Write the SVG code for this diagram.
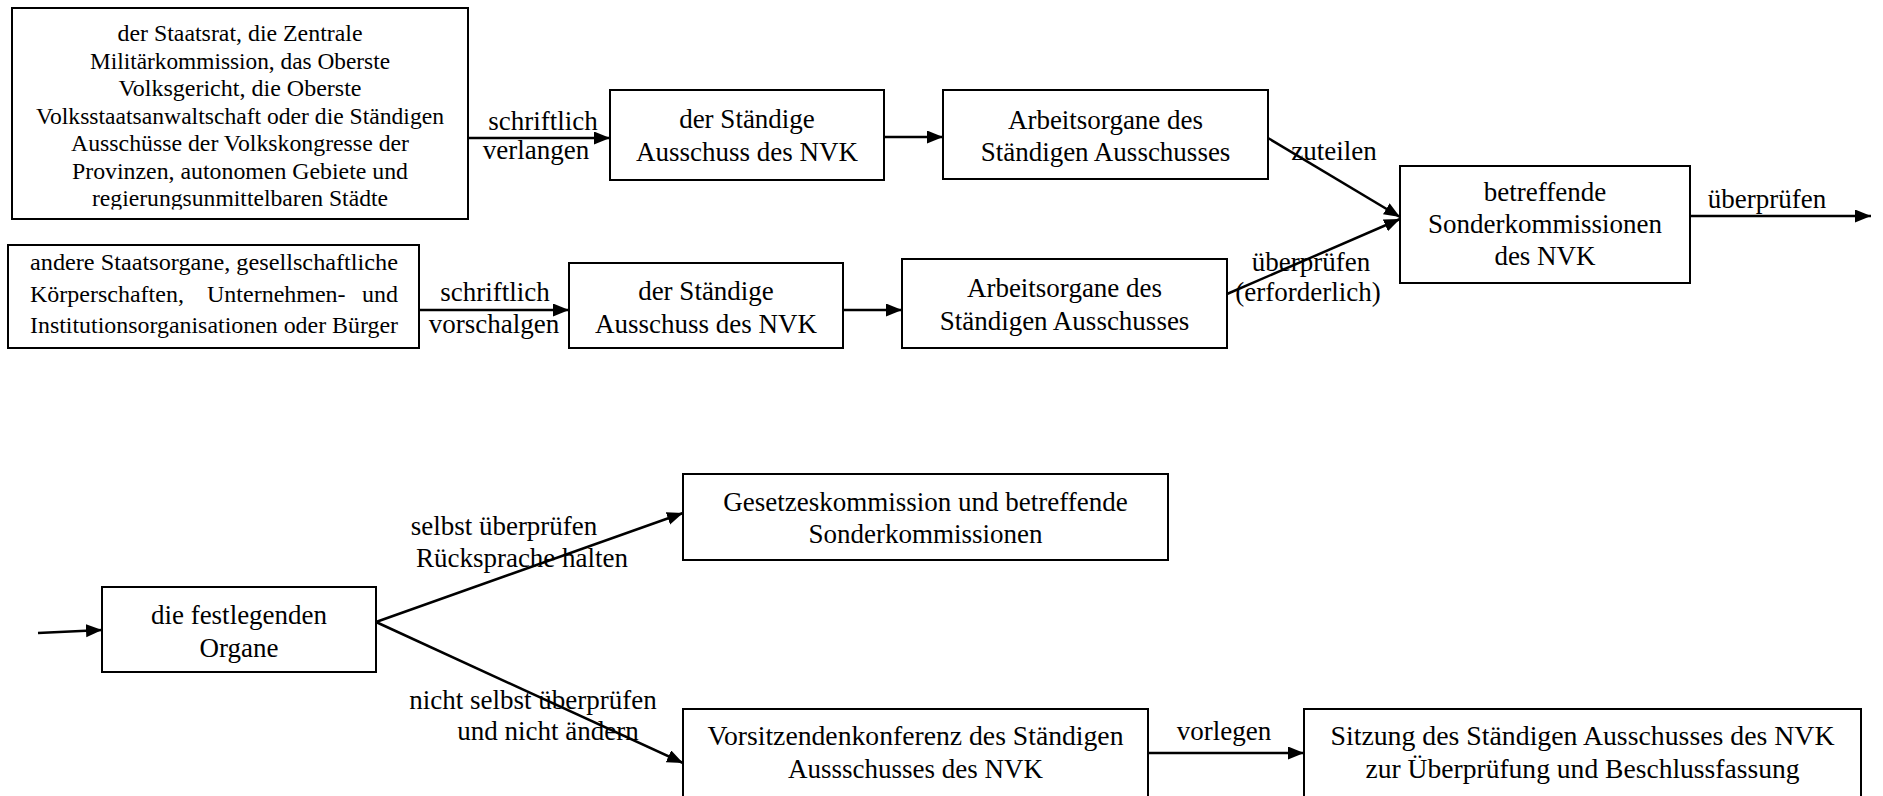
<svg xmlns="http://www.w3.org/2000/svg" width="1883" height="796" viewBox="0 0 1883 796">
<style>
.box{fill:#fff;stroke:#000;stroke-width:2}
.t{font-family:"Liberation Serif","Times New Roman",serif;font-size:27px;fill:#000;text-anchor:middle}
.s{font-size:23.5px}
.l{text-anchor:start;font-size:24px}
.r{text-anchor:end;font-size:24px}
.c{stroke:#000;stroke-width:2.5;fill:none;marker-end:url(#ah)}
</style>
<defs>
<marker id="ah" markerUnits="userSpaceOnUse" markerWidth="18" markerHeight="14" refX="16" refY="6.5" orient="auto" viewBox="0 0 18 14">
<path d="M0,0 L16,6.5 L0,13 z" fill="#000"/>
</marker>
<clipPath id="cp1"><rect x="13" y="9" width="454" height="200.5"/></clipPath>
</defs>
<rect width="1883" height="796" fill="#fff"/>

<g id="connectors">
<line class="c" x1="468" y1="138" x2="610" y2="138"/>
<line class="c" x1="884" y1="137" x2="943" y2="137"/>
<line class="c" x1="1268" y1="138" x2="1400" y2="217"/>
<line class="c" x1="1227" y1="294" x2="1400" y2="219"/>
<line class="c" x1="1690" y1="216" x2="1871" y2="216"/>
<line class="c" x1="419" y1="310" x2="569" y2="310"/>
<line class="c" x1="843" y1="310" x2="902" y2="310"/>
<line class="c" x1="38" y1="633" x2="102" y2="630"/>
<line class="c" x1="376" y1="622" x2="683" y2="513"/>
<line class="c" x1="376" y1="622" x2="683" y2="763"/>
<line class="c" x1="1148" y1="753" x2="1304" y2="753"/>
<text class="t" x="543" y="130">schriftlich</text>
<text class="t" x="536" y="159">verlangen</text>
<text class="t" x="1334" y="160">zuteilen</text>
<text class="t" x="1767" y="208">überprüfen</text>
<text class="t" x="495" y="301">schriftlich</text>
<text class="t" x="494" y="333">vorschalgen</text>
<text class="t" x="1311" y="271">überprüfen</text>
<text class="t" x="1308" y="301">(erforderlich)</text>
<text class="t" x="504" y="535">selbst überprüfen</text>
<text class="t" x="522" y="567">Rücksprache halten</text>
<text class="t" x="533" y="709">nicht selbst überprüfen</text>
<text class="t" x="548" y="740">und nicht ändern</text>
<text class="t" x="1224" y="740">vorlegen</text>
</g>

<g id="n1">
<rect class="box" x="12" y="8" width="456" height="211"/>
<g clip-path="url(#cp1)">
<text class="t s" x="240" y="41" textLength="245" lengthAdjust="spacingAndGlyphs">der Staatsrat, die Zentrale</text>
<text class="t s" x="240" y="68.5" textLength="300" lengthAdjust="spacingAndGlyphs">Militärkommission, das Oberste</text>
<text class="t s" x="240" y="96" textLength="243" lengthAdjust="spacingAndGlyphs">Volksgericht, die Oberste</text>
<text class="t s" x="240" y="123.5" textLength="408" lengthAdjust="spacingAndGlyphs">Volksstaatsanwaltschaft oder die Ständigen</text>
<text class="t s" x="240" y="151" textLength="338" lengthAdjust="spacingAndGlyphs">Ausschüsse der Volkskongresse der</text>
<text class="t s" x="240" y="178.5" textLength="336" lengthAdjust="spacingAndGlyphs">Provinzen, autonomen Gebiete und</text>
<text class="t s" x="240" y="206" textLength="296" lengthAdjust="spacingAndGlyphs">regierungsunmittelbaren Städte</text>
</g>
</g>

<g id="n2">
<rect class="box" x="610" y="90" width="274" height="90"/>
<text class="t" x="747" y="128">der Ständige</text>
<text class="t" x="747" y="161">Ausschuss des NVK</text>
</g>

<g id="n3">
<rect class="box" x="943" y="90" width="325" height="89"/>
<text class="t" x="1105.5" y="129">Arbeitsorgane des</text>
<text class="t" x="1105.5" y="161">Ständigen Ausschusses</text>
</g>

<g id="n4">
<rect class="box" x="1400" y="166" width="290" height="117"/>
<text class="t" x="1545" y="201">betreffende</text>
<text class="t" x="1545" y="233">Sonderkommissionen</text>
<text class="t" x="1545" y="265">des NVK</text>
</g>

<g id="n5">
<rect class="box" x="8" y="245" width="411" height="103"/>
<text class="t l" x="30" y="270" textLength="368" lengthAdjust="spacingAndGlyphs">andere Staatsorgane, gesellschaftliche</text>
<text class="t l" x="30" y="302">Körperschaften,</text>
<text class="t l" x="207" y="302">Unternehmen-</text>
<text class="t r" x="398" y="302">und</text>
<text class="t l" x="30" y="333" textLength="368" lengthAdjust="spacingAndGlyphs">Institutionsorganisationen oder Bürger</text>
</g>

<g id="n6">
<rect class="box" x="569" y="263" width="274" height="85"/>
<text class="t" x="706" y="300">der Ständige</text>
<text class="t" x="706" y="333">Ausschuss des NVK</text>
</g>

<g id="n7">
<rect class="box" x="902" y="259" width="325" height="89"/>
<text class="t" x="1064.5" y="297">Arbeitsorgane des</text>
<text class="t" x="1064.5" y="330">Ständigen Ausschusses</text>
</g>

<g id="n8">
<rect class="box" x="102" y="587" width="274" height="85"/>
<text class="t" x="239" y="624">die festlegenden</text>
<text class="t" x="239" y="657">Organe</text>
</g>

<g id="n9">
<rect class="box" x="683" y="474" width="485" height="86"/>
<text class="t" x="925.5" y="511">Gesetzeskommission und betreffende</text>
<text class="t" x="925.5" y="543">Sonderkommissionen</text>
</g>

<g id="n10">
<rect class="box" x="683" y="709" width="465" height="100"/>
<text class="t" x="915.5" y="745" textLength="416" lengthAdjust="spacingAndGlyphs">Vorsitzendenkonferenz des Ständigen</text>
<text class="t" x="915.5" y="778">Aussschusses des NVK</text>
</g>

<g id="n11">
<rect class="box" x="1304" y="709" width="557" height="100"/>
<text class="t" x="1582.5" y="745" textLength="504" lengthAdjust="spacingAndGlyphs">Sitzung des Ständigen Ausschusses des NVK</text>
<text class="t" x="1582.5" y="778" textLength="434" lengthAdjust="spacingAndGlyphs">zur Überprüfung und Beschlussfassung</text>
</g>
</svg>
